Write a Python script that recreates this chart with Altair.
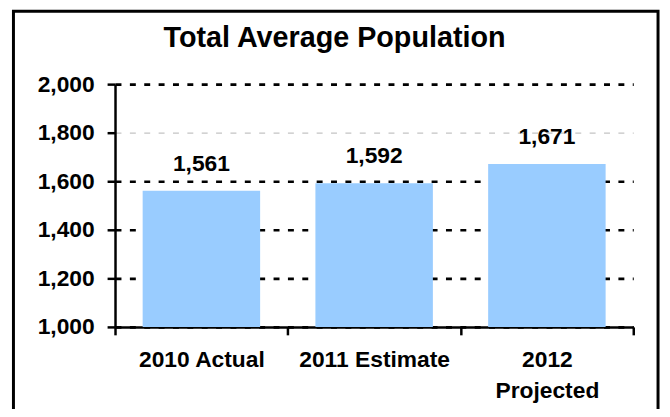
import altair as alt
import pandas as pd

categories = ["2010 Actual", "2011 Estimate", "2012 Projected"]
values = [1561, 1592, 1671]
y_ticks = [1000, 1200, 1400, 1600, 1800, 2000]
title_text = "Total Average Population"

df = pd.DataFrame({"cat": categories, "val": values})
FONT = "Liberation Sans"

x_enc = alt.X(
    "cat:N",
    sort=categories,
    scale=alt.Scale(paddingInner=0, paddingOuter=0),
    axis=alt.Axis(
        title=None,
        labelAngle=0,
        labelFont=FONT,
        labelFontSize=23,
        labelFontWeight="bold",
        labelColor="black",
        labelBaseline="top",
        labelPadding=14,
        labelLineHeight=31,
        labelExpr="datum.label == '2012 Projected' ? ['2012', 'Projected'] : datum.label",
        tickBand="extent",
        tickSize=8,
        tickWidth=2.5,
        tickColor="black",
        domainColor="black",
        domainWidth=2.5,
        grid=False,
    ),
)

y_enc = alt.Y(
    "val:Q",
    scale=alt.Scale(domain=[1000, 2000], nice=False, zero=False),
    axis=alt.Axis(
        title=None,
        values=y_ticks,
        format=",d",
        labelFont=FONT,
        labelFontSize=23,
        labelFontWeight="bold",
        labelColor="black",
        labelPadding=13,
        tickSize=8,
        tickWidth=2.5,
        tickColor="black",
        domainColor="black",
        domainWidth=2.5,
        grid=True,
        gridColor={"condition": {"test": "datum.value === 1800", "value": "#c4c4c4"}, "value": "black"},
        gridWidth={"condition": {"test": "datum.value === 1800", "value": 1.2}, "value": 2.6},
        gridDash=[6, 8.5],
    ),
)

bars = alt.Chart(df).mark_bar(color="#99CCFF", width=alt.RelativeBandSize(0.68)).encode(
    x=x_enc, y=y_enc, y2=alt.datum(1000)
)

labels = alt.Chart(df).mark_text(
    font=FONT, fontSize=23, fontWeight="bold", color="black", baseline="alphabetic", dy=-20
).encode(x=alt.X("cat:N", sort=categories), y="val:Q", text=alt.Text("val:Q", format=",d"))

frame = alt.Chart(pd.DataFrame({"a": [0]})).mark_rect(
    filled=False, stroke="black", strokeWidth=3
).encode(x=alt.value(-102.5), x2=alt.value(548), y=alt.value(-73.5), y2=alt.value(420))

chart = alt.layer(bars, labels, frame).properties(
    width=523,
    height=245,
    title=alt.TitleParams(
        text=title_text,
        font=FONT,
        fontSize=29,
        fontWeight="bold",
        color="black",
        anchor="middle",
        baseline="alphabetic",
        offset=-67,
        dx=-40,
    ),
    autosize=alt.AutoSizeParams(type="none"),
    padding={"left": 108, "top": 75, "right": 29, "bottom": 81},
).configure_view(stroke=None)

chart.save("out.html", embed_options={"renderer": "svg", "actions": False})
